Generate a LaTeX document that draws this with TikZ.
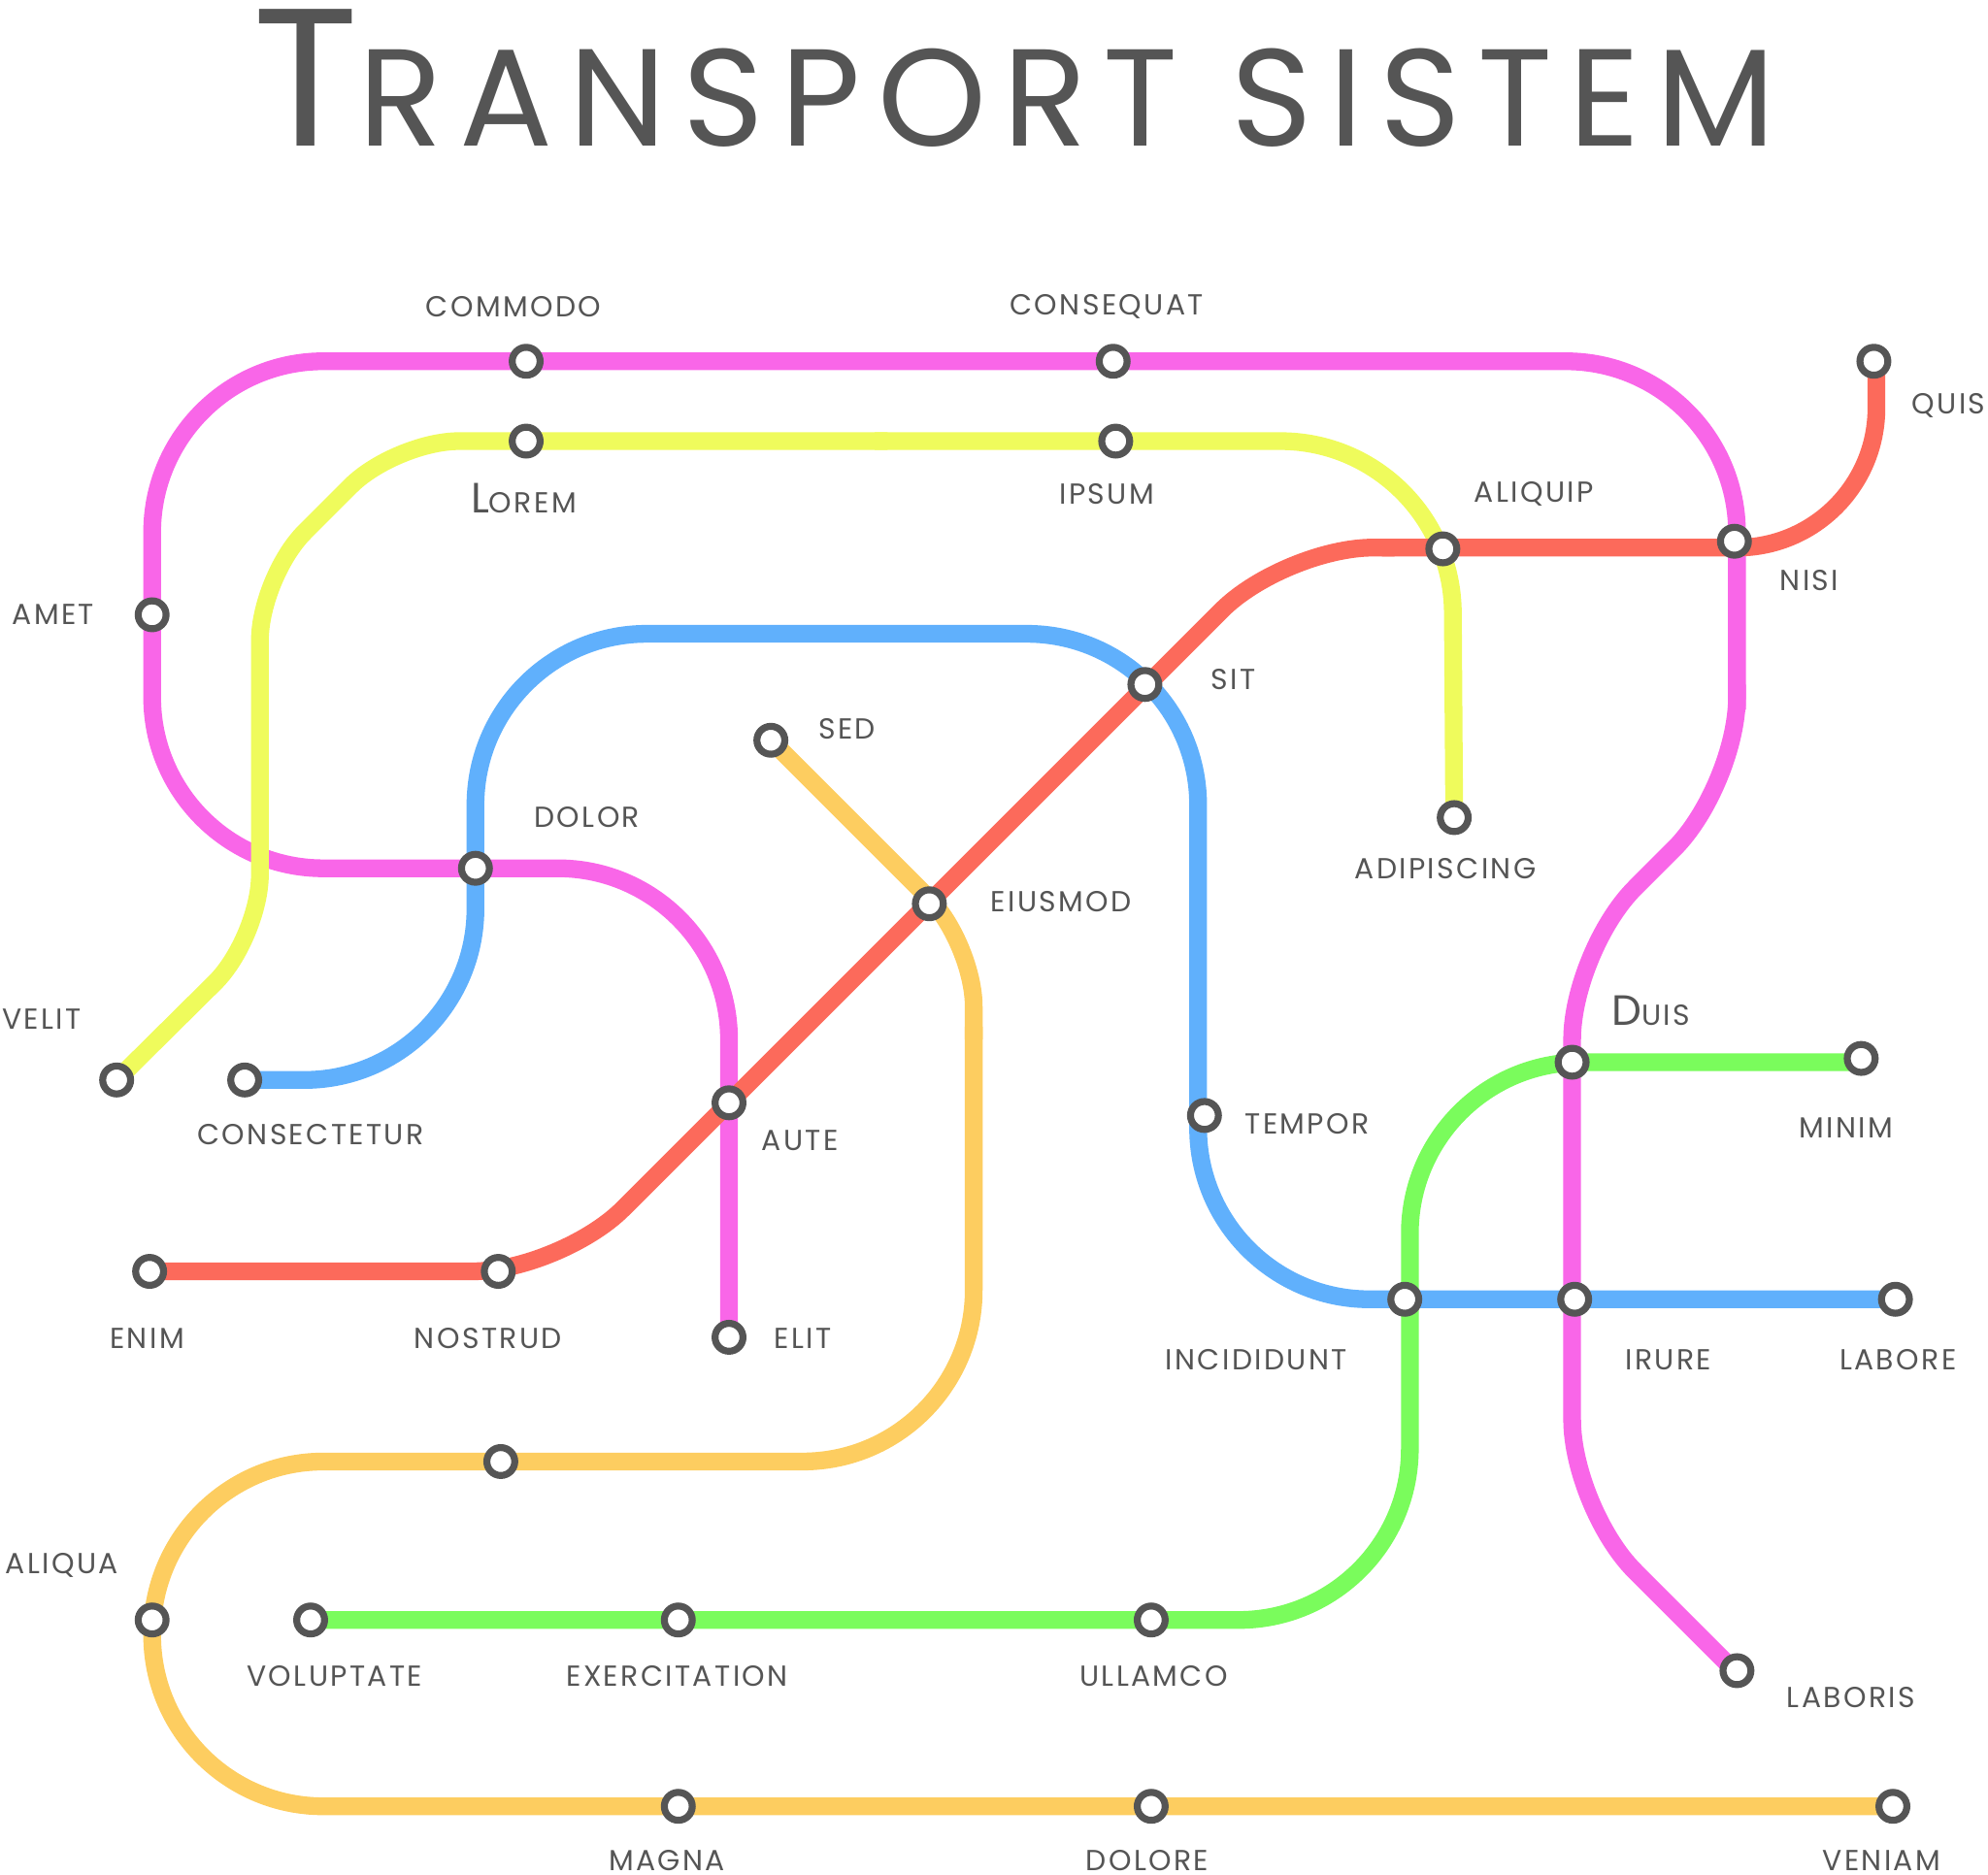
\documentclass[tikz,border=0pt]{standalone}
\usepackage{fontspec}
\newfontfamily\lblfont{Poppins}[LetterSpace=8]
\newfontfamily\titlefont{Poppins}[LetterSpace=12]
\usetikzlibrary{positioning}
\definecolor{ink}{HTML}{555555}
\definecolor{pinkline}{HTML}{F966E8}
\definecolor{yellowline}{HTML}{EFFB5C}
\definecolor{redline}{HTML}{FC6A5B}
\definecolor{blueline}{HTML}{60B0FC}
\definecolor{orangeline}{HTML}{FDCD60}
\definecolor{greenline}{HTML}{7AFC5C}
\begin{document}
\begin{tikzpicture}[
    x=0.01cm, y=-0.01cm,
    route/.style={line width=0.14cm, rounded corners=1.35cm},
    tight/.style={route, rounded corners=0.5cm},
    stn/.style={circle, draw=ink, fill=white, line width=0.055cm, minimum size=0.22cm, inner sep=0pt},
    lbl/.style={text=ink, font=\lblfont\fontsize{6.5}{7}\selectfont}
  ]
    \useasboundingbox (0,0) rectangle (1568,1479);
    \node[text=ink, font=\titlefont\fontsize{31}{33}\selectfont, anchor=base] (title) at (800,115)
      {{\fontsize{44}{46}\selectfont T}RANSPORT SISTEM};

    % lines
    \draw[route, pinkline] (575,1055) -- (575,685) -- (120,685) -- (120,285) -- (1370,285) -- (1370,560);
    \draw[tight, pinkline, rounded corners=0.7cm] (1370,540) -- (1370,620) -- (1240,750) -- (1240,1190) -- (1370,1320);
    \draw[tight, yellowline] (92,852) -- (205,740) -- (205,455) -- (312,348) -- (700,348);
    \draw[route, yellowline] (690,348) -- (1145,348) -- (1147,645);
    \draw[tight, redline, rounded corners=0.7cm] (118,1003) -- (442,1003) -- (1013,432) -- (1100,432);
    \draw[route, redline, rounded corners=1.1cm] (1090,432) -- (1480,432) -- (1480,285);
    \draw[route, blueline] (193,852) -- (375,852) -- (375,500) -- (945,500) -- (945,1025) -- (1495,1025);
    \draw[tight, orangeline] (608,584) -- (768,744) -- (768,820);
    \draw[route, orangeline] (768,810) -- (768,1153) -- (120,1153) -- (120,1425) -- (1495,1425);
    \draw[route, greenline] (245,1278) -- (1112,1278) -- (1112,838) -- (1468,838);

    % stations
    \node[stn] (commodo) at (415,285) {};
    \node[stn] (consequat) at (878,285) {};
    \node[stn] (quis) at (1478,285) {};
    \node[stn] (lorem) at (415,348) {};
    \node[stn] (ipsum) at (880,348) {};
    \node[stn] (aliquip) at (1138,433) {};
    \node[stn] (nisi) at (1368,427) {};
    \node[stn] (amet) at (120,485) {};
    \node[stn] (sit) at (903,540) {};
    \node[stn] (sed) at (608,584) {};
    \node[stn] (adipiscing) at (1147,645) {};
    \node[stn] (dolor) at (375,685) {};
    \node[stn] (eiusmod) at (733,713) {};
    \node[stn] (velit) at (92,852) {};
    \node[stn] (consectetur) at (193,852) {};
    \node[stn] (duis) at (1240,838) {};
    \node[stn] (minim) at (1468,835) {};
    \node[stn] (aute) at (575,870) {};
    \node[stn] (tempor) at (950,880) {};
    \node[stn] (enim) at (118,1003) {};
    \node[stn] (nostrud) at (393,1003) {};
    \node[stn] (elit) at (575,1055) {};
    \node[stn] (incididunt) at (1108,1025) {};
    \node[stn] (irure) at (1242,1025) {};
    \node[stn] (labore) at (1495,1025) {};
    \node[stn] (midorange) at (395,1153) {};
    \node[stn] (aliqua) at (120,1278) {};
    \node[stn] (voluptate) at (245,1278) {};
    \node[stn] (exercitation) at (535,1278) {};
    \node[stn] (ullamco) at (908,1278) {};
    \node[stn] (laboris) at (1370,1318) {};
    \node[stn] (magna) at (535,1425) {};
    \node[stn] (dolore) at (908,1425) {};
    \node[stn] (veniam) at (1493,1425) {};

    % labels
    \node[lbl] (commodo-l) at (405,242) {COMMODO};
    \node[lbl] (consequat-l) at (873,242) {CONSEQUAT};
    \node[lbl] (lorem-l) at (413,393) {{\fontsize{9.5}{10}\selectfont L}OREM};
    \node[lbl] (ipsum-l) at (873,390) {IPSUM};
    \node[lbl] (aliquip-l) at (1210,390) {ALIQUIP};
    \node[lbl] (quis-l) at (1537,320) {QUIS};
    \node[lbl] (nisi-l) at (1427,458) {NISI};
    \node[lbl] (amet-l) at (42,485) {AMET};
    \node[lbl] (sit-l) at (973,536) {SIT};
    \node[lbl] (sed-l) at (668,575) {SED};
    \node[lbl] (dolor-l) at (463,645) {DOLOR};
    \node[lbl] (adipiscing-l) at (1140,685) {ADIPISCING};
    \node[lbl] (eiusmod-l) at (837,711) {EIUSMOD};
    \node[lbl] (velit-l) at (33,804) {VELIT};
    \node[lbl] (duis-l) at (1302,797) {{\fontsize{9.5}{10}\selectfont D}UIS};
    \node[lbl] (consectetur-l) at (245,895) {CONSECTETUR};
    \node[lbl] (aute-l) at (631,900) {AUTE};
    \node[lbl] (tempor-l) at (1031,887) {TEMPOR};
    \node[lbl] (minim-l) at (1456,890) {MINIM};
    \node[lbl] (enim-l) at (116,1056) {ENIM};
    \node[lbl] (nostrud-l) at (385,1056) {NOSTRUD};
    \node[lbl] (elit-l) at (633,1056) {ELIT};
    \node[lbl] (incididunt-l) at (991,1073) {INCIDIDUNT};
    \node[lbl] (irure-l) at (1316,1073) {IRURE};
    \node[lbl] (labore-l) at (1497,1073) {LABORE};
    \node[lbl] (aliqua-l) at (49,1235) {ALIQUA};
    \node[lbl] (voluptate-l) at (264,1322) {VOLUPTATE};
    \node[lbl] (exercitation-l) at (534,1322) {EXERCITATION};
    \node[lbl] (ullamco-l) at (910,1322) {ULLAMCO};
    \node[lbl] (laboris-l) at (1460,1339) {LABORIS};
    \node[lbl] (magna-l) at (526,1468) {MAGNA};
    \node[lbl] (dolore-l) at (905,1468) {DOLORE};
    \node[lbl] (veniam-l) at (1484,1468) {VENIAM};
  \end{tikzpicture}
\end{document}
